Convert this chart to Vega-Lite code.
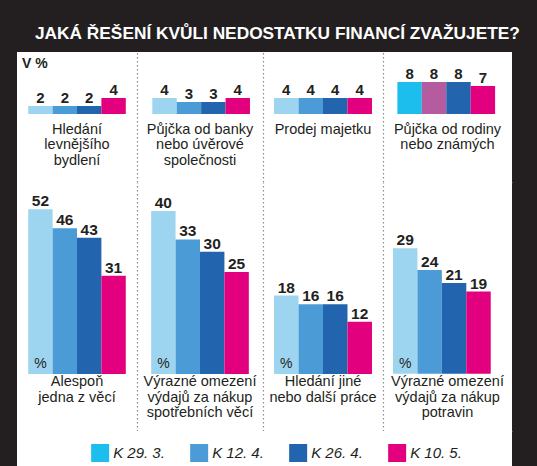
{
  "$schema": "https://vega.github.io/schema/vega-lite/v6.json",
  "background": "#231f20",
  "padding": {"left": 17, "right": 25, "top": 24, "bottom": 0},
  "title": {
    "text": "JAKÁ ŘEŠENÍ KVŮLI NEDOSTATKU FINANCÍ ZVAŽUJETE?",
    "color": "#ffffff",
    "font": "Liberation Sans",
    "fontSize": 17.3,
    "fontWeight": "bold",
    "anchor": "start",
    "dx": 18,
    "offset": 10
  },
  "datasets": {
    "survey": [
      {"row": "top", "question": "Hledání|levnějšího|bydlení", "period": "K 29. 3.", "value": 2},
      {"row": "top", "question": "Hledání|levnějšího|bydlení", "period": "K 12. 4.", "value": 2},
      {"row": "top", "question": "Hledání|levnějšího|bydlení", "period": "K 26. 4.", "value": 2},
      {"row": "top", "question": "Hledání|levnějšího|bydlení", "period": "K 10. 5.", "value": 4},
      {"row": "top", "question": "Půjčka od banky|nebo úvěrové|společnosti", "period": "K 29. 3.", "value": 4},
      {"row": "top", "question": "Půjčka od banky|nebo úvěrové|společnosti", "period": "K 12. 4.", "value": 3},
      {"row": "top", "question": "Půjčka od banky|nebo úvěrové|společnosti", "period": "K 26. 4.", "value": 3},
      {"row": "top", "question": "Půjčka od banky|nebo úvěrové|společnosti", "period": "K 10. 5.", "value": 4},
      {"row": "top", "question": "Prodej majetku", "period": "K 29. 3.", "value": 4},
      {"row": "top", "question": "Prodej majetku", "period": "K 12. 4.", "value": 4},
      {"row": "top", "question": "Prodej majetku", "period": "K 26. 4.", "value": 4},
      {"row": "top", "question": "Prodej majetku", "period": "K 10. 5.", "value": 4},
      {"row": "top", "question": "Půjčka od rodiny|nebo známých", "period": "K 29. 3.", "value": 8},
      {"row": "top", "question": "Půjčka od rodiny|nebo známých", "period": "K 12. 4.", "value": 8},
      {"row": "top", "question": "Půjčka od rodiny|nebo známých", "period": "K 26. 4.", "value": 8},
      {"row": "top", "question": "Půjčka od rodiny|nebo známých", "period": "K 10. 5.", "value": 7},
      {"row": "bottom", "question": "Alespoň|jedna z věcí", "period": "K 29. 3.", "value": 52},
      {"row": "bottom", "question": "Alespoň|jedna z věcí", "period": "K 12. 4.", "value": 46},
      {"row": "bottom", "question": "Alespoň|jedna z věcí", "period": "K 26. 4.", "value": 43},
      {"row": "bottom", "question": "Alespoň|jedna z věcí", "period": "K 10. 5.", "value": 31},
      {"row": "bottom", "question": "Výrazné omezení|výdajů za nákup|spotřebních věcí", "period": "K 29. 3.", "value": 40},
      {"row": "bottom", "question": "Výrazné omezení|výdajů za nákup|spotřebních věcí", "period": "K 12. 4.", "value": 33},
      {"row": "bottom", "question": "Výrazné omezení|výdajů za nákup|spotřebních věcí", "period": "K 26. 4.", "value": 30},
      {"row": "bottom", "question": "Výrazné omezení|výdajů za nákup|spotřebních věcí", "period": "K 10. 5.", "value": 25},
      {"row": "bottom", "question": "Hledání jiné|nebo další práce", "period": "K 29. 3.", "value": 18},
      {"row": "bottom", "question": "Hledání jiné|nebo další práce", "period": "K 12. 4.", "value": 16},
      {"row": "bottom", "question": "Hledání jiné|nebo další práce", "period": "K 26. 4.", "value": 16},
      {"row": "bottom", "question": "Hledání jiné|nebo další práce", "period": "K 10. 5.", "value": 12},
      {"row": "bottom", "question": "Výrazné omezení|výdajů za nákup|potravin", "period": "K 29. 3.", "value": 29},
      {"row": "bottom", "question": "Výrazné omezení|výdajů za nákup|potravin", "period": "K 12. 4.", "value": 24},
      {"row": "bottom", "question": "Výrazné omezení|výdajů za nákup|potravin", "period": "K 26. 4.", "value": 21},
      {"row": "bottom", "question": "Výrazné omezení|výdajů za nákup|potravin", "period": "K 10. 5.", "value": 19}
    ],
    "periods": [
      {"period": "K 29. 3."},
      {"period": "K 12. 4."},
      {"period": "K 26. 4."},
      {"period": "K 10. 5."}
    ]
  },
  "spacing": 0,
  "resolve": {"scale": {"color": "independent", "x": "independent", "y": "independent"}},
  "vconcat": [
    {
      "spacing": 0,
      "bounds": "flush",
      "resolve": {"scale": {"color": "independent", "x": "independent", "y": "independent"}},
      "hconcat": [
        {
          "width": 120, "height": 130,
          "title": {"text": "V %", "anchor": "start", "frame": "group", "orient": "top", "baseline": "top", "offset": -19, "dx": 5, "fontSize": 14, "fontWeight": "bold", "color": "#231f20", "font": "Liberation Sans"},
          "data": {"name": "survey"},
          "transform": [{"filter": "datum.question == 'Hledání|levnějšího|bydlení'"}],
          "layer": [
            {"mark": {"type": "bar"},
             "encoding": {
               "x": {"field": "period", "type": "nominal", "sort": ["K 29. 3.", "K 12. 4.", "K 26. 4.", "K 10. 5."], "title": null, "scale": {"paddingInner": 0, "paddingOuter": 0.46, "align": 0.5}},
               "y": {"field": "value", "type": "quantitative", "title": null, "axis": null, "scale": {"domain": [-17, 15.5], "nice": false, "zero": false}},
               "color": {"field": "period", "type": "nominal", "legend": null, "scale": {"domain": ["K 29. 3.", "K 12. 4.", "K 26. 4.", "K 10. 5."], "range": ["#9dd5f0", "#4b9cd6", "#2264ad", "#e3007e"]}}
             }},
            {"mark": {"type": "text", "baseline": "alphabetic", "dy": -3, "fontSize": 15, "fontWeight": "bold"},
             "encoding": {
               "x": {"field": "period", "type": "nominal", "sort": ["K 29. 3.", "K 12. 4.", "K 26. 4.", "K 10. 5."], "title": null},
               "y": {"field": "value", "type": "quantitative", "title": null, "axis": null},
               "text": {"field": "value", "type": "quantitative"}
             }},
            {"transform": [{"filter": "datum.period == 'K 29. 3.'"}],
             "mark": {"type": "text", "baseline": "top", "lineBreak": "|", "fontSize": 14.5, "lineHeight": 15.5},
             "encoding": {
               "y": {"datum": -2.2, "axis": null},
               "text": {"field": "question", "type": "nominal"}
             }}
          ]
        },
        {
          "width": 126, "height": 130,
          "data": {"name": "survey"},
          "transform": [{"filter": "datum.question == 'Půjčka od banky|nebo úvěrové|společnosti'"}],
          "layer": [
            {"mark": {"type": "bar"},
             "encoding": {
               "x": {"field": "period", "type": "nominal", "sort": ["K 29. 3.", "K 12. 4.", "K 26. 4.", "K 10. 5."], "title": null, "scale": {"paddingInner": 0, "paddingOuter": 0.58, "align": 0.54}},
               "y": {"field": "value", "type": "quantitative", "title": null, "scale": {"domain": [-17, 15.5], "nice": false, "zero": false}},
               "color": {"field": "period", "type": "nominal", "legend": null, "scale": {"domain": ["K 29. 3.", "K 12. 4.", "K 26. 4.", "K 10. 5."], "range": ["#9dd5f0", "#4b9cd6", "#2264ad", "#e3007e"]}}
             }},
            {"mark": {"type": "text", "baseline": "alphabetic", "dy": -3, "fontSize": 15, "fontWeight": "bold"},
             "encoding": {
               "x": {"field": "period", "type": "nominal", "sort": ["K 29. 3.", "K 12. 4.", "K 26. 4.", "K 10. 5."], "title": null},
               "y": {"field": "value", "type": "quantitative", "title": null},
               "text": {"field": "value", "type": "quantitative"}
             }},
            {"transform": [{"filter": "datum.period == 'K 29. 3.'"}],
             "mark": {"type": "text", "baseline": "top", "lineBreak": "|", "fontSize": 14.5, "lineHeight": 15.5},
             "encoding": {
               "y": {"datum": -2.2},
               "text": {"field": "question", "type": "nominal"}
             }}
          ]
        },
        {
          "width": 120, "height": 130,
          "data": {"name": "survey"},
          "transform": [{"filter": "datum.question == 'Prodej majetku'"}],
          "layer": [
            {"mark": {"type": "bar"},
             "encoding": {
               "x": {"field": "period", "type": "nominal", "sort": ["K 29. 3.", "K 12. 4.", "K 26. 4.", "K 10. 5."], "title": null, "scale": {"paddingInner": 0, "paddingOuter": 0.45, "align": 0.5}},
               "y": {"field": "value", "type": "quantitative", "title": null, "scale": {"domain": [-17, 15.5], "nice": false, "zero": false}},
               "color": {"field": "period", "type": "nominal", "legend": null, "scale": {"domain": ["K 29. 3.", "K 12. 4.", "K 26. 4.", "K 10. 5."], "range": ["#9dd5f0", "#4b9cd6", "#2264ad", "#e3007e"]}}
             }},
            {"mark": {"type": "text", "baseline": "alphabetic", "dy": -3, "fontSize": 15, "fontWeight": "bold"},
             "encoding": {
               "x": {"field": "period", "type": "nominal", "sort": ["K 29. 3.", "K 12. 4.", "K 26. 4.", "K 10. 5."], "title": null},
               "y": {"field": "value", "type": "quantitative", "title": null},
               "text": {"field": "value", "type": "quantitative"}
             }},
            {"transform": [{"filter": "datum.period == 'K 29. 3.'"}],
             "mark": {"type": "text", "baseline": "top", "lineBreak": "|", "fontSize": 14.5, "lineHeight": 15.5},
             "encoding": {
               "y": {"datum": -2.2},
               "text": {"field": "question", "type": "nominal"}
             }}
          ]
        },
        {
          "width": 129, "height": 130,
          "data": {"name": "survey"},
          "transform": [{"filter": "datum.question == 'Půjčka od rodiny|nebo známých'"}],
          "layer": [
            {"mark": {"type": "bar"},
             "encoding": {
               "x": {"field": "period", "type": "nominal", "sort": ["K 29. 3.", "K 12. 4.", "K 26. 4.", "K 10. 5."], "title": null, "scale": {"paddingInner": 0, "paddingOuter": 0.64, "align": 0.46}},
               "y": {"field": "value", "type": "quantitative", "title": null, "scale": {"domain": [-17, 15.5], "nice": false, "zero": false}},
               "color": {"field": "period", "type": "nominal", "legend": null, "scale": {"domain": ["K 29. 3.", "K 12. 4.", "K 26. 4.", "K 10. 5."], "range": ["#1cbeed", "#b55ba0", "#2264ad", "#e3007e"]}}
             }},
            {"mark": {"type": "text", "baseline": "alphabetic", "dy": -3, "fontSize": 15, "fontWeight": "bold"},
             "encoding": {
               "x": {"field": "period", "type": "nominal", "sort": ["K 29. 3.", "K 12. 4.", "K 26. 4.", "K 10. 5."], "title": null},
               "y": {"field": "value", "type": "quantitative", "title": null},
               "text": {"field": "value", "type": "quantitative"}
             }},
            {"transform": [{"filter": "datum.period == 'K 29. 3.'"}],
             "mark": {"type": "text", "baseline": "top", "lineBreak": "|", "fontSize": 14.5, "lineHeight": 15.5},
             "encoding": {
               "y": {"datum": -2.2},
               "text": {"field": "question", "type": "nominal"}
             }}
          ]
        }
      ]
    },
    {
      "spacing": 0,
      "bounds": "flush",
      "resolve": {"scale": {"color": "independent", "x": "independent", "y": "independent"}},
      "hconcat": [
        {
          "width": 120, "height": 249,
          "data": {"name": "survey"},
          "transform": [{"filter": "datum.question == 'Alespoň|jedna z věcí'"}],
          "layer": [
            {"mark": {"type": "bar"},
             "encoding": {
               "x": {"field": "period", "type": "nominal", "sort": ["K 29. 3.", "K 12. 4.", "K 26. 4.", "K 10. 5."], "title": null, "scale": {"paddingInner": 0, "paddingOuter": 0.46, "align": 0.5}},
               "y": {"field": "value", "type": "quantitative", "title": null, "axis": null, "scale": {"domain": [-18, 60.6], "nice": false, "zero": false}},
               "color": {"field": "period", "type": "nominal", "legend": null, "scale": {"domain": ["K 29. 3.", "K 12. 4.", "K 26. 4.", "K 10. 5."], "range": ["#9dd5f0", "#4b9cd6", "#2264ad", "#e3007e"]}}
             }},
            {"mark": {"type": "text", "baseline": "alphabetic", "dy": -3, "fontSize": 15.5, "fontWeight": "bold"},
             "encoding": {
               "x": {"field": "period", "type": "nominal", "sort": ["K 29. 3.", "K 12. 4.", "K 26. 4.", "K 10. 5."], "title": null},
               "y": {"field": "value", "type": "quantitative", "title": null, "axis": null},
               "text": {"field": "value", "type": "quantitative"}
             }},
            {"transform": [{"filter": "datum.period == 'K 29. 3.'"}],
             "mark": {"type": "text", "baseline": "bottom", "dy": -3, "fontSize": 14, "text": "%"},
             "encoding": {
               "x": {"field": "period", "type": "nominal", "sort": ["K 29. 3.", "K 12. 4.", "K 26. 4.", "K 10. 5."], "title": null},
               "y": {"datum": 0, "axis": null}
             }},
            {"transform": [{"filter": "datum.period == 'K 29. 3.'"}],
             "mark": {"type": "text", "baseline": "top", "lineBreak": "|", "fontSize": 14.5, "lineHeight": 15.5},
             "encoding": {
               "y": {"datum": -0.45, "axis": null},
               "text": {"field": "question", "type": "nominal"}
             }}
          ]
        },
        {
          "width": 126, "height": 249,
          "data": {"name": "survey"},
          "transform": [{"filter": "datum.question == 'Výrazné omezení|výdajů za nákup|spotřebních věcí'"}],
          "layer": [
            {"mark": {"type": "bar"},
             "encoding": {
               "x": {"field": "period", "type": "nominal", "sort": ["K 29. 3.", "K 12. 4.", "K 26. 4.", "K 10. 5."], "title": null, "scale": {"paddingInner": 0, "paddingOuter": 0.58, "align": 0.5}},
               "y": {"field": "value", "type": "quantitative", "title": null, "scale": {"domain": [-14, 47.1], "nice": false, "zero": false}},
               "color": {"field": "period", "type": "nominal", "legend": null, "scale": {"domain": ["K 29. 3.", "K 12. 4.", "K 26. 4.", "K 10. 5."], "range": ["#9dd5f0", "#4b9cd6", "#2264ad", "#e3007e"]}}
             }},
            {"mark": {"type": "text", "baseline": "alphabetic", "dy": -3, "fontSize": 15.5, "fontWeight": "bold"},
             "encoding": {
               "x": {"field": "period", "type": "nominal", "sort": ["K 29. 3.", "K 12. 4.", "K 26. 4.", "K 10. 5."], "title": null},
               "y": {"field": "value", "type": "quantitative", "title": null},
               "text": {"field": "value", "type": "quantitative"}
             }},
            {"transform": [{"filter": "datum.period == 'K 29. 3.'"}],
             "mark": {"type": "text", "baseline": "bottom", "dy": -3, "fontSize": 14, "text": "%"},
             "encoding": {
               "x": {"field": "period", "type": "nominal", "sort": ["K 29. 3.", "K 12. 4.", "K 26. 4.", "K 10. 5."], "title": null},
               "y": {"datum": 0}
             }},
            {"transform": [{"filter": "datum.period == 'K 29. 3.'"}],
             "mark": {"type": "text", "baseline": "top", "lineBreak": "|", "fontSize": 14.5, "lineHeight": 15.5},
             "encoding": {
               "y": {"datum": -0.37},
               "text": {"field": "question", "type": "nominal"}
             }}
          ]
        },
        {
          "width": 120, "height": 249,
          "data": {"name": "survey"},
          "transform": [{"filter": "datum.question == 'Hledání jiné|nebo další práce'"}],
          "layer": [
            {"mark": {"type": "bar"},
             "encoding": {
               "x": {"field": "period", "type": "nominal", "sort": ["K 29. 3.", "K 12. 4.", "K 26. 4.", "K 10. 5."], "title": null, "scale": {"paddingInner": 0, "paddingOuter": 0.45, "align": 0.5}},
               "y": {"field": "value", "type": "quantitative", "title": null, "scale": {"domain": [-13.1, 44.1], "nice": false, "zero": false}},
               "color": {"field": "period", "type": "nominal", "legend": null, "scale": {"domain": ["K 29. 3.", "K 12. 4.", "K 26. 4.", "K 10. 5."], "range": ["#9dd5f0", "#4b9cd6", "#2264ad", "#e3007e"]}}
             }},
            {"mark": {"type": "text", "baseline": "alphabetic", "dy": -3, "fontSize": 15.5, "fontWeight": "bold"},
             "encoding": {
               "x": {"field": "period", "type": "nominal", "sort": ["K 29. 3.", "K 12. 4.", "K 26. 4.", "K 10. 5."], "title": null},
               "y": {"field": "value", "type": "quantitative", "title": null},
               "text": {"field": "value", "type": "quantitative"}
             }},
            {"transform": [{"filter": "datum.period == 'K 29. 3.'"}],
             "mark": {"type": "text", "baseline": "bottom", "dy": -3, "fontSize": 14, "text": "%"},
             "encoding": {
               "x": {"field": "period", "type": "nominal", "sort": ["K 29. 3.", "K 12. 4.", "K 26. 4.", "K 10. 5."], "title": null},
               "y": {"datum": 0}
             }},
            {"transform": [{"filter": "datum.period == 'K 29. 3.'"}],
             "mark": {"type": "text", "baseline": "top", "lineBreak": "|", "fontSize": 14.5, "lineHeight": 15.5},
             "encoding": {
               "y": {"datum": -0.35},
               "text": {"field": "question", "type": "nominal"}
             }}
          ]
        },
        {
          "width": 129, "height": 249,
          "data": {"name": "survey"},
          "transform": [{"filter": "datum.question == 'Výrazné omezení|výdajů za nákup|potravin'"}],
          "layer": [
            {"mark": {"type": "bar"},
             "encoding": {
               "x": {"field": "period", "type": "nominal", "sort": ["K 29. 3.", "K 12. 4.", "K 26. 4.", "K 10. 5."], "title": null, "scale": {"paddingInner": 0, "paddingOuter": 0.64, "align": 0.32}},
               "y": {"field": "value", "type": "quantitative", "title": null, "scale": {"domain": [-13.2, 44.3], "nice": false, "zero": false}},
               "color": {"field": "period", "type": "nominal", "legend": null, "scale": {"domain": ["K 29. 3.", "K 12. 4.", "K 26. 4.", "K 10. 5."], "range": ["#9dd5f0", "#4b9cd6", "#2264ad", "#e3007e"]}}
             }},
            {"mark": {"type": "text", "baseline": "alphabetic", "dy": -3, "fontSize": 15.5, "fontWeight": "bold"},
             "encoding": {
               "x": {"field": "period", "type": "nominal", "sort": ["K 29. 3.", "K 12. 4.", "K 26. 4.", "K 10. 5."], "title": null},
               "y": {"field": "value", "type": "quantitative", "title": null},
               "text": {"field": "value", "type": "quantitative"}
             }},
            {"transform": [{"filter": "datum.period == 'K 29. 3.'"}],
             "mark": {"type": "text", "baseline": "bottom", "dy": -3, "fontSize": 14, "text": "%"},
             "encoding": {
               "x": {"field": "period", "type": "nominal", "sort": ["K 29. 3.", "K 12. 4.", "K 26. 4.", "K 10. 5."], "title": null},
               "y": {"datum": 0}
             }},
            {"transform": [{"filter": "datum.period == 'K 29. 3.'"}],
             "mark": {"type": "text", "baseline": "top", "lineBreak": "|", "fontSize": 14.5, "lineHeight": 15.5},
             "encoding": {
               "y": {"datum": -0.35},
               "text": {"field": "question", "type": "nominal"}
             }}
          ]
        }
      ]
    },
    {
      "width": 495, "height": 44,
      "data": {"name": "periods"},
      "encoding": {
        "x": {"field": "period", "type": "nominal", "sort": ["K 29. 3.", "K 12. 4.", "K 26. 4.", "K 10. 5."], "title": null, "axis": null, "scale": {"type": "point", "padding": 1.57, "align": 0.42}}
      },
      "layer": [
        {"mark": {"type": "point", "shape": "square", "filled": true, "opacity": 1, "size": 324},
         "encoding": {
           "color": {"field": "period", "type": "nominal", "legend": null, "scale": {"domain": ["K 29. 3.", "K 12. 4.", "K 26. 4.", "K 10. 5."], "range": ["#1cbeed", "#4b9cd6", "#2264ad", "#e3007e"]}}
         }},
        {"mark": {"type": "text", "align": "left", "dx": 13, "fontSize": 15, "fontStyle": "italic"},
         "encoding": {"text": {"field": "period", "type": "nominal"}}}
      ]
    }
  ],
  "config": {
    "font": "Liberation Sans",
    "view": {"fill": "#ffffff", "stroke": null},
    "concat": {"spacing": 0},
    "text": {"color": "#231f20", "font": "Liberation Sans"},
    "axis": {"labels": false, "ticks": false, "grid": false, "domainColor": "#8a8a8a", "domainDash": [1.5, 2.5], "domainWidth": 1.2}
  }
}
